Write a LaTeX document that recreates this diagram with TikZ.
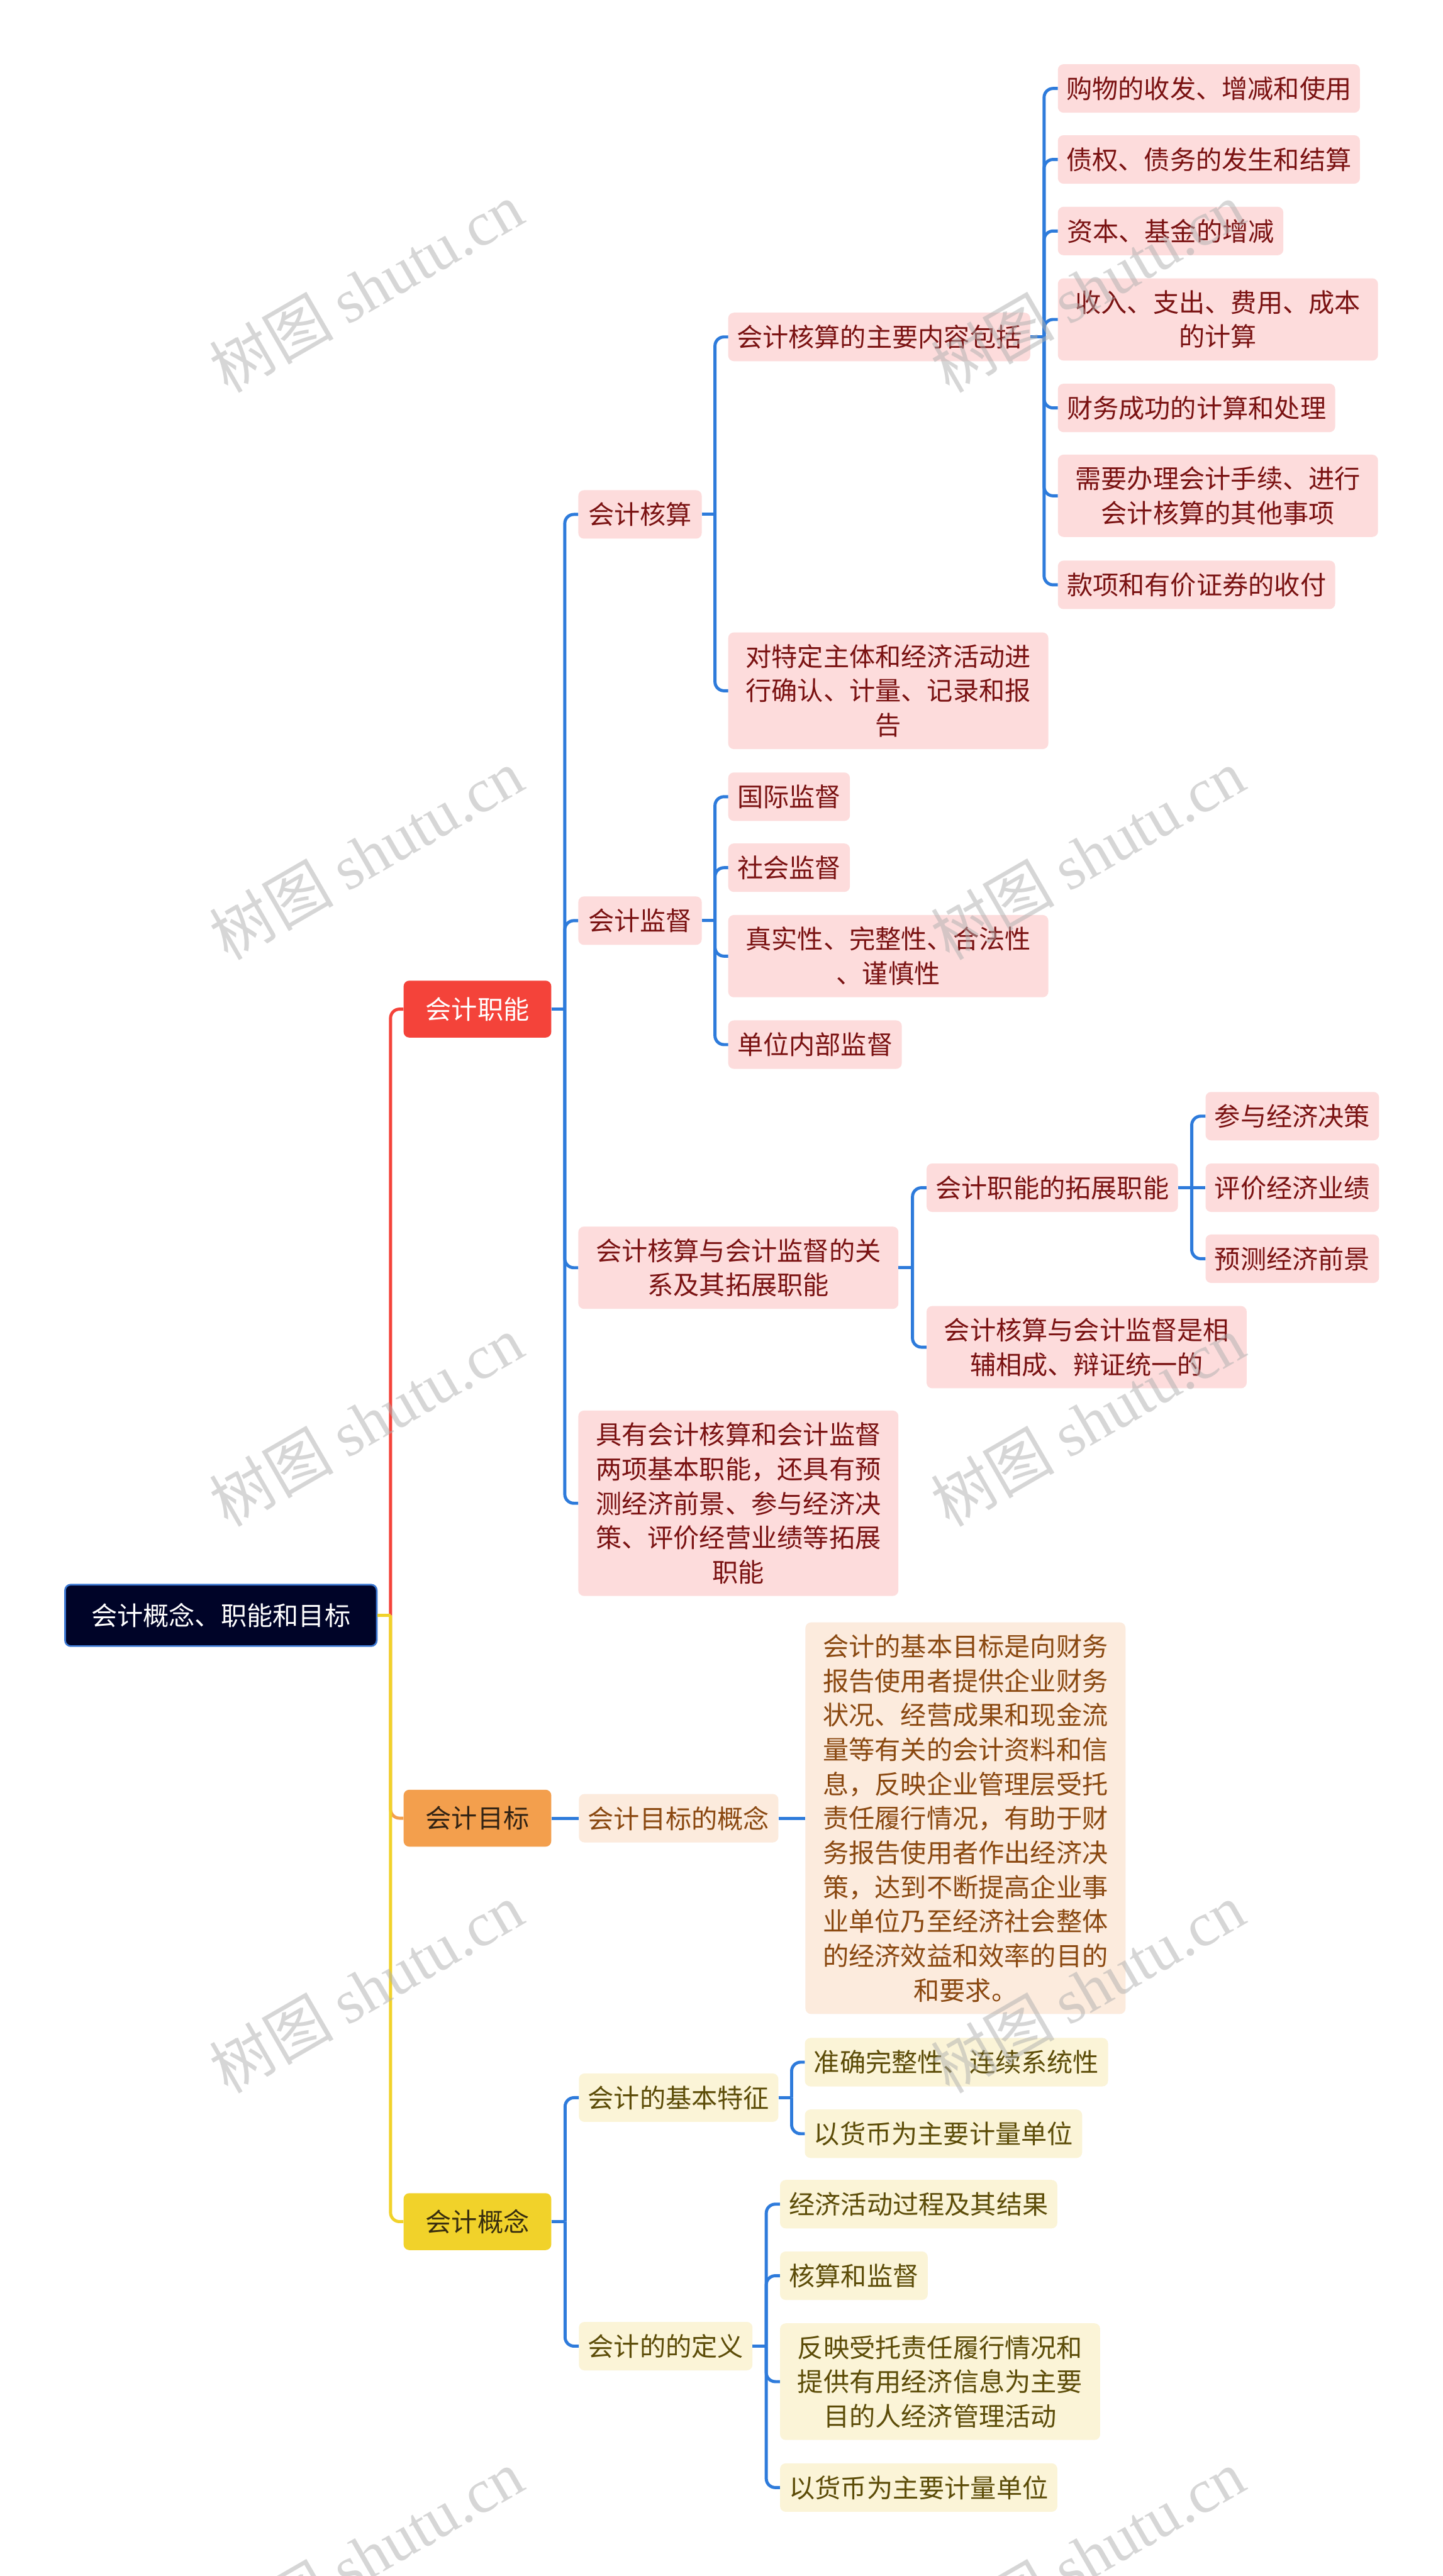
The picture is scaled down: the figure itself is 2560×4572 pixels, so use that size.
\documentclass[tikz,border=0pt]{standalone}
\usepackage{fontspec}
\setmainfont{Noto Sans CJK SC}
\newfontfamily\wmserif{Liberation Serif}
\usetikzlibrary{calc}
\definecolor{lineblue}{RGB}{46,123,219}
\definecolor{rfill}{RGB}{253,220,220}
\definecolor{rtext}{RGB}{122,18,18}
\definecolor{ofill}{RGB}{252,235,221}
\definecolor{otext}{RGB}{138,72,16}
\definecolor{yfill}{RGB}{251,244,215}
\definecolor{ytext}{RGB}{92,76,8}
\definecolor{brred}{RGB}{244,67,58}
\definecolor{brorange}{RGB}{243,159,77}
\definecolor{bryellow}{RGB}{241,210,42}
\definecolor{rootfill}{RGB}{0,4,40}
\definecolor{rootborder}{RGB}{60,120,210}
\definecolor{otitle}{RGB}{50,35,20}
\definecolor{ytitle}{RGB}{55,45,15}
\definecolor{wmgray}{RGB}{175,175,175}
\newcommand\mmnode[6]{\node[#1, minimum width=#4pt, minimum height=#5pt] (#2) at (#3) {#6};}
\newcommand\mmlink[3][conn]{%
  \coordinate (tmp) at ($(#2.east)!0.5!(#3.west |- #2.east)$);
  \draw[#1, rounded corners=0pt] (#2.east) -- (tmp);
  \draw[#1] (tmp) |- (#3.west);}
\newcommand\mmstraight[3][conn]{\draw[#1, rounded corners=0pt] (#2.east) -- (#3.west);}
\begin{document}
\begin{tikzpicture}[x=1pt,y=-1pt,
  base/.style={rounded corners=10pt, inner sep=0pt, align=center,
    font=\fontsize{46pt}{61pt}\selectfont, anchor=west},
  rl/.style={base, fill=rfill, text=rtext},
  ol/.style={base, fill=ofill, text=otext},
  yl/.style={base, fill=yfill, text=ytext},
  conn/.style={line width=5.5pt, draw=lineblue, rounded corners=16pt},
]
\useasboundingbox[fill=white] (0,0) rectangle (2560,4572);

% root and main branches
\mmnode{base, fill=rootfill, draw=rootborder, line width=3pt, text=white}{root}{114,2867}{553}{109}{会计概念、职能和目标}
\mmnode{base, fill=brred, text=white}{f}{716,1791}{262}{101}{会计职能}
\mmnode{base, fill=brorange, text=otitle}{g}{716,3227}{262}{101}{会计目标}
\mmnode{base, fill=bryellow, text=ytitle}{c}{716,3943}{262}{101}{会计概念}

% 会计职能
\mmnode{rl}{hs}{1026,913}{219}{86}{会计核算}
\mmnode{rl}{jd}{1026,1634}{219}{86}{会计监督}
\mmnode{rl}{gx}{1026,2250}{568}{146}{会计核算与会计监督的关\\系及其拓展职能}
\mmnode{rl}{jy}{1026,2668}{568}{329}{具有会计核算和会计监督\\两项基本职能，还具有预\\测经济前景、参与经济决\\策、评价经营业绩等拓展\\职能}

\mmnode{rl}{nr}{1292,598}{536}{86}{会计核算的主要内容包括}
\mmnode{rl}{dt}{1292,1226}{568}{207}{对特定主体和经济活动进\\行确认、计量、记录和报\\告}

\mmnode{rl}{a1}{1877,157}{536}{86}{购物的收发、增减和使用}
\mmnode{rl}{a2}{1877,283}{536}{86}{债权、债务的发生和结算}
\mmnode{rl}{a3}{1877,410}{400}{86}{资本、基金的增减}
\mmnode{rl}{a4}{1877,567}{568}{146}{收入、支出、费用、成本\\的计算}
\mmnode{rl}{a5}{1877,724}{492}{86}{财务成功的计算和处理}
\mmnode{rl}{a6}{1877,880}{568}{146}{需要办理会计手续、进行\\会计核算的其他事项}
\mmnode{rl}{a7}{1877,1038}{492}{86}{款项和有价证券的收付}

\mmnode{rl}{b1}{1292,1414}{216}{86}{国际监督}
\mmnode{rl}{b2}{1292,1540}{216}{86}{社会监督}
\mmnode{rl}{b3}{1292,1697}{568}{146}{真实性、完整性、合法性\\、谨慎性}
\mmnode{rl}{b4}{1292,1854}{308}{86}{单位内部监督}

\mmnode{rl}{e1}{1644,2108}{446}{86}{会计职能的拓展职能}
\mmnode{rl}{e2}{1644,2391}{568}{146}{会计核算与会计监督是相\\辅相成、辩证统一的}

\mmnode{rl}{k1}{2139,1981}{308}{86}{参与经济决策}
\mmnode{rl}{k2}{2139,2108}{308}{86}{评价经济业绩}
\mmnode{rl}{k3}{2139,2234}{308}{86}{预测经济前景}

% 会计目标
\mmnode{ol}{m1}{1027,3227}{354}{86}{会计目标的概念}
\mmnode{ol}{m2}{1429,3227}{568}{695}{会计的基本目标是向财务\\报告使用者提供企业财务\\状况、经营成果和现金流\\量等有关的会计资料和信\\息，反映企业管理层受托\\责任履行情况，有助于财\\务报告使用者作出经济决\\策，达到不断提高企业事\\业单位乃至经济社会整体\\的经济效益和效率的目的\\和要求。}

% 会计概念
\mmnode{yl}{p1}{1027,3723}{354}{86}{会计的基本特征}
\mmnode{yl}{p2}{1027,4164}{308}{86}{会计的的定义}
\mmnode{yl}{q1}{1428,3660}{538}{86}{准确完整性、连续系统性}
\mmnode{yl}{q2}{1428,3787}{492}{86}{以货币为主要计量单位}
\mmnode{yl}{r1}{1384,3912}{492}{86}{经济活动过程及其结果}
\mmnode{yl}{r2}{1384,4039}{262}{86}{核算和监督}
\mmnode{yl}{r3}{1384,4227}{568}{207}{反映受托责任履行情况和\\提供有用经济信息为主要\\目的人经济管理活动}
\mmnode{yl}{r4}{1384,4415}{492}{86}{以货币为主要计量单位}

% connectors from root
\mmlink[conn, draw=brred]{root}{f}
\mmlink[conn, draw=brorange]{root}{g}
\mmlink[conn, draw=bryellow]{root}{c}

\mmlink{f}{hs}\mmlink{f}{jd}\mmlink{f}{gx}\mmlink{f}{jy}
\mmlink{hs}{nr}\mmlink{hs}{dt}
\mmlink{nr}{a1}\mmlink{nr}{a2}\mmlink{nr}{a3}\mmlink{nr}{a4}\mmlink{nr}{a5}\mmlink{nr}{a6}\mmlink{nr}{a7}
\mmlink{jd}{b1}\mmlink{jd}{b2}\mmlink{jd}{b3}\mmlink{jd}{b4}
\mmlink{gx}{e1}\mmlink{gx}{e2}
\mmlink{e1}{k1}\mmstraight{e1}{k2}\mmlink{e1}{k3}
\mmstraight{g}{m1}\mmstraight{m1}{m2}
\mmlink{c}{p1}\mmlink{c}{p2}
\mmlink{p1}{q1}\mmlink{p1}{q2}
\mmlink{p2}{r1}\mmlink{p2}{r2}\mmlink{p2}{r3}\mmlink{p2}{r4}

% watermarks
\begin{scope}
\clip (0,0) rectangle (2560,4572);
\foreach \xx in {650,1930} {
  \foreach \yy in {510,1516,2522,3528,4534} {
    \node[rotate=30, text=wmgray, opacity=0.5, inner sep=0pt,
      font=\fontsize{110pt}{110pt}\selectfont] (wm-\xx-\yy) at (\xx,\yy) {树图 {\wmserif shutu.cn}};
  }
}
\end{scope}
\end{tikzpicture}
\end{document}
